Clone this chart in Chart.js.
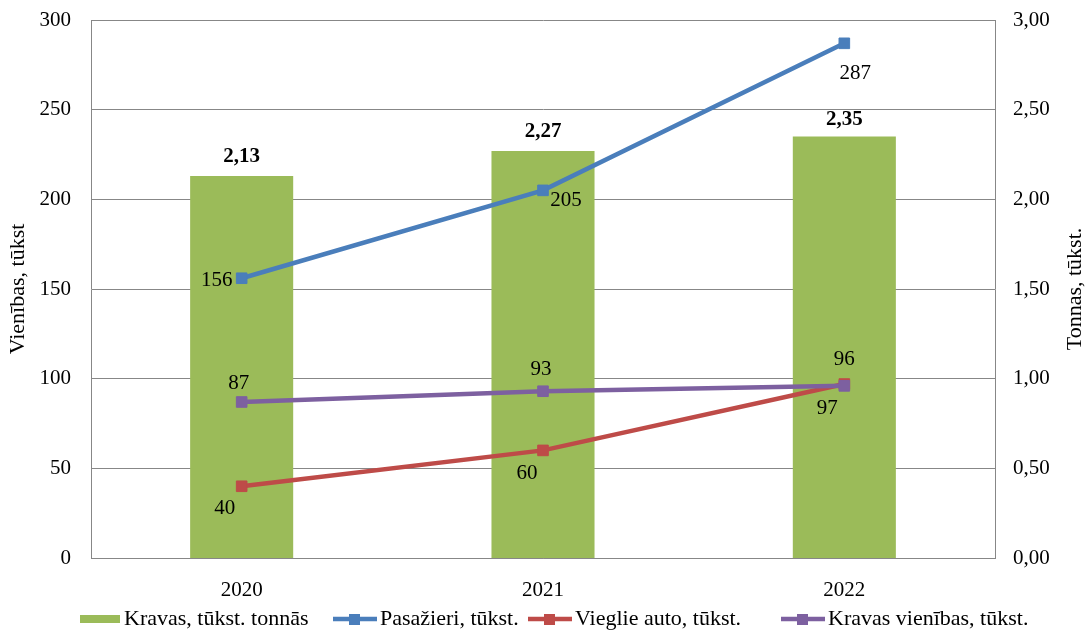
<!DOCTYPE html>
<html>
<head>
<meta charset="utf-8">
<script src="https://cdn.jsdelivr.net/npm/chart.js@4/dist/chart.umd.min.js"></script>
<style>
  html, body { margin: 0; padding: 0; background: #fff; }
  #wrap { width: 1088px; height: 632px; }
</style>
</head>
<body>
<div id="wrap"><canvas id="chart" width="1088" height="632"></canvas></div>
<script>
const years = ["2020", "2021", "2022"];
const cargoTonnes = [2.13, 2.27, 2.35];   // right axis
const passengers = [156, 205, 287];
const cars = [40, 60, 97];
const cargoUnits = [87, 93, 96];
const leftTicks = [0, 50, 100, 150, 200, 250, 300];
const rightTicks = [0, 0.5, 1, 1.5, 2, 2.5, 3];

const FONT = '"Liberation Serif", "Times New Roman", serif';
const GRID = "#878787";
const GREEN = "#9BBB59";
const BLUE = "#4A7EBB";
const RED = "#BE4B48";
const PURPLE = "#7D60A0";

const comma = (v) => v.toFixed(2).replace(".", ",");

// labels next to each mark, shifted a bit like in the original
const labelPlugin = {
  id: "valueLabels",
  afterDatasetsDraw(chart) {
    const ctx = chart.ctx;
    chart.data.datasets.forEach((ds, i) => {
      if (!ds.labelShift) return;
      const meta = chart.getDatasetMeta(i);
      meta.data.forEach((el, j) => {
        const [dx, dy] = ds.labelShift[j];
        ctx.save();
        ctx.font = (ds.labelBold ? "bold " : "") + "21px " + FONT;
        ctx.fillStyle = "#000";
        ctx.textAlign = "center";
        ctx.textBaseline = "middle";
        const v = ds.data[j];
        ctx.fillText(ds.yAxisID === "y1" ? comma(v) : String(v), el.x + dx, el.y + dy);
        ctx.restore();
      });
    });
  },
};

// axis titles (both read bottom to top) and the legend row
const extrasPlugin = {
  id: "extras",
  afterDraw(chart) {
    const ctx = chart.ctx;
    const area = chart.chartArea;
    const midY = (area.top + area.bottom) / 2;

    ctx.save();
    ctx.fillStyle = "#000";
    ctx.font = "22px " + FONT;
    ctx.textAlign = "center";
    ctx.textBaseline = "middle";
    [["Vienības, tūkst", 18], ["Tonnas, tūkst.", 1075]].forEach(([t, x]) => {
      ctx.save();
      ctx.translate(x, midY);
      ctx.rotate(-Math.PI / 2);
      ctx.fillText(t, 0, 0);
      ctx.restore();
    });

    const y = 619;
    const starts = [80, 333, 528, 781];
    ctx.font = "22px " + FONT;
    ctx.textAlign = "left";
    chart.data.datasets.forEach((ds, i) => {
      const x = starts[i];
      if (ds.type === "bar") {
        ctx.fillStyle = ds.backgroundColor;
        ctx.fillRect(x, y - 4, 40, 8);
      } else {
        ctx.strokeStyle = ds.borderColor;
        ctx.lineWidth = 4.5;
        ctx.beginPath();
        ctx.moveTo(x, y);
        ctx.lineTo(x + 44, y);
        ctx.stroke();
        ctx.fillStyle = ds.borderColor;
        ctx.fillRect(x + 16, y - 5, 11, 11);
      }
      ctx.fillStyle = "#000";
      ctx.fillText(ds.label, x + (ds.type === "bar" ? 44 : 47), y);
    });
    ctx.restore();
  },
};

const lineSet = (label, data, color, order, shift) => ({
  type: "line",
  label,
  data,
  yAxisID: "y",
  borderColor: color,
  backgroundColor: color,
  borderWidth: 4.5,
  pointStyle: "rect",
  pointRadius: 7.5,
  pointBorderWidth: 1,
  pointBackgroundColor: color,
  pointBorderColor: color,
  tension: 0,
  order,
  labelShift: shift,
});

// fixed axis widths, and no extra room for the end labels
const fitY = (w) => (scale) => {
  scale.width = w;
  scale.paddingTop = 0;
  scale.paddingBottom = 0;
};

new Chart(document.getElementById("chart"), {
  data: {
    labels: years,
    datasets: [
      {
        type: "bar",
        label: "Kravas, tūkst. tonnās",
        data: cargoTonnes,
        yAxisID: "y1",
        backgroundColor: GREEN,
        categoryPercentage: 1,
        barPercentage: 0.342,
        order: 10,
        labelBold: true,
        labelShift: [[0, -19], [0, -19], [0, -17]],
      },
      lineSet("Pasažieri, tūkst.", passengers, BLUE, 3, [[-25, 2], [23, 10], [11, 30]]),
      lineSet("Vieglie auto, tūkst.", cars, RED, 2, [[-17, 22], [-16, 23], [-17, 24]]),
      lineSet("Kravas vienības, tūkst.", cargoUnits, PURPLE, 1, [[-3, -18], [-2, -22], [0, -26]]),
    ],
  },
  options: {
    responsive: false,
    animation: false,
    layout: { padding: { top: 20, left: 0, right: 0, bottom: 0 } },
    plugins: {
      legend: { display: false },
      tooltip: { enabled: false },
    },
    scales: {
      x: {
        offset: true,
        grid: { display: false },
        border: { display: true, color: GRID, width: 1 },
        ticks: { color: "#000", font: { family: FONT, size: 21 }, padding: 12 },
        afterFit(scale) {
          scale.height = 74;
          scale.paddingLeft = 0;
          scale.paddingRight = 0;
        },
      },
      y: {
        position: "left",
        min: 0,
        max: 300,
        afterBuildTicks(scale) { scale.ticks = leftTicks.map((v) => ({ value: v })); },
        grid: { color: GRID, lineWidth: 1, drawTicks: false },
        border: { display: true, color: GRID, width: 1 },
        ticks: { color: "#000", font: { family: FONT, size: 21 }, padding: 20 },
        afterFit: fitY(91),
      },
      y1: {
        position: "right",
        min: 0,
        max: 3,
        afterBuildTicks(scale) { scale.ticks = rightTicks.map((v) => ({ value: v })); },
        grid: { display: false, drawTicks: false },
        border: { display: true, color: GRID, width: 1 },
        ticks: {
          color: "#000",
          font: { family: FONT, size: 21 },
          padding: 18,
          callback: (v) => comma(v),
        },
        afterFit: fitY(93),
      },
    },
  },
  plugins: [labelPlugin, extrasPlugin],
});
</script>
</body>
</html>
